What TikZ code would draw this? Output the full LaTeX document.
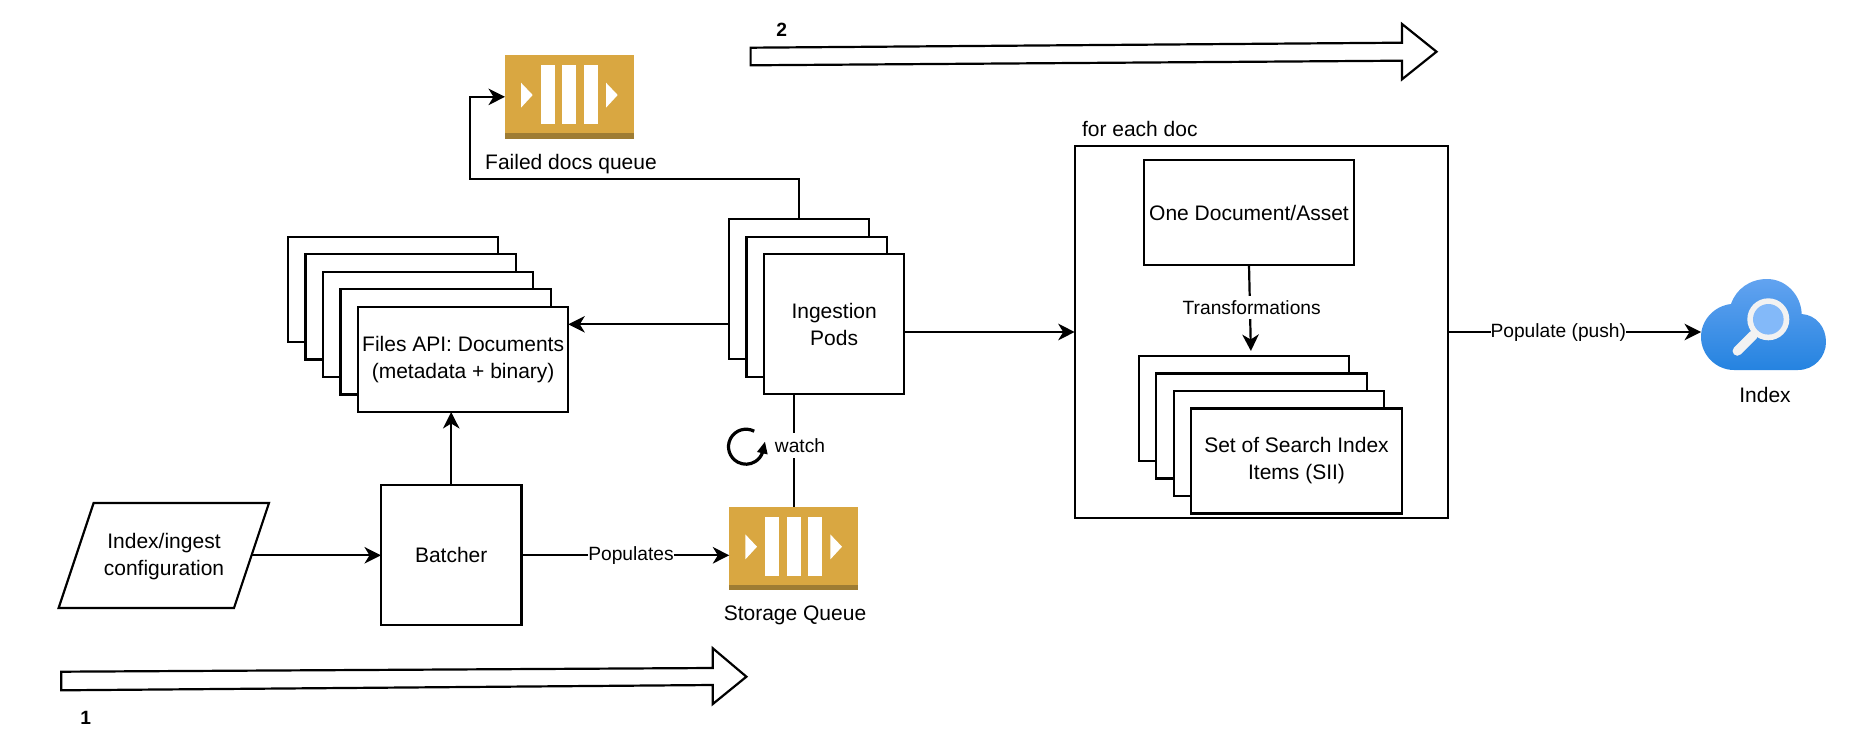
\documentclass[tikz,border=0pt]{standalone}
\usepackage{fontspec}
\setmainfont{Liberation Sans}
\usepackage{xcolor}
\usetikzlibrary{arrows.meta}
\usetikzlibrary{positioning}

\definecolor{queuegold}{HTML}{D9A741}
\definecolor{queueband}{HTML}{9E7C33}
\definecolor{cloudtop}{HTML}{62A3F0}
\definecolor{cloudbot}{HTML}{2583E0}
\definecolor{lensblue}{HTML}{83B9F9}
\definecolor{lensrim}{HTML}{F2F2F2}

\tikzset{
  every node/.style={font=\fontsize{21}{27}\selectfont, align=center, inner sep=0pt, outer sep=0pt},
  boxnode/.style={draw, fill=white, line width=2.2pt, anchor=north west},
  filesbox/.style={boxnode, minimum width=210.3pt, minimum height=105.3pt},
  podbox/.style={boxnode, minimum width=140.3pt, minimum height=140pt},
  siibox/.style={boxnode, minimum width=210.6pt, minimum height=105pt},
  queuebox/.style={fill=queuegold, anchor=north west, minimum width=128.6pt, minimum height=83.7pt},
  flowline/.style={line width=2.2pt, -{Stealth[length=16.5pt,width=16.5pt,inset=5pt]}},
  plainline/.style={line width=2.2pt},
  fatarrow/.style={draw, fill=white, line width=2.2pt, line join=miter},
  edgelabel/.style={fill=white, font=\fontsize{19.2}{23}\selectfont},
}

\begin{document}
\begin{tikzpicture}[x=1pt, y=-1pt]
    \useasboundingbox (0,0) rectangle (1862,746);

    % big arrows
    \draw [fatarrow] (750.6,47.7) -- (1402,42.7) -- (1402,24) -- (1436.5,51.7) -- (1402,79.3) -- (1402,60.7) -- (750.6,65.3) -- cycle;
    \draw [fatarrow] (61.2,671.7) -- (712.8,668) -- (712.8,648.3) -- (746.4,676.7) -- (712.8,704) -- (712.8,685) -- (61.2,690.3) -- cycle;
    \node [font=\fontsize{19.2}{23}\selectfont\bfseries] (steptwo) at (781.8,29.7) {2};
    \node [font=\fontsize{19.2}{23}\selectfont\bfseries] (stepone) at (85.7,718) {1};

    % queues
    \foreach \qname/\qx/\qy in {failedq/505/55, storageq/729.3/506.7} {
      \begin{scope}[shift={(\qx,\qy)}]
        \node [queuebox] (\qname) at (0,0) {};
        \fill [queueband] (0,78) rectangle (128.6,83.7);
        \fill [white] (36,10) rectangle (49.7,69.3);
        \fill [white] (57.3,10) rectangle (71.3,69.3);
        \fill [white] (79,10) rectangle (93,69.3);
        \fill [white] (16,27.7) -- (27.7,40) -- (16,52.7) -- cycle;
        \fill [white] (101,27.7) -- (112.7,40) -- (101,52.7) -- cycle;
      \end{scope}
    }
    \node (failedtext) at (571,164) {Failed docs queue};
    \node (storagetext) at (795,615) {Storage Queue};

    % stacks
    \foreach \i in {0,...,3} {
      \node [filesbox] (files\i) at ({288+\i*17.5},{236.7+\i*17.5}) {};
    }
    \node [filesbox] (filesfront) at (358,306.7) {Files API: Documents\\(metadata + binary)};

    \foreach \i in {0,1} {
      \node [podbox] (pods\i) at ({729+\i*17.5},{219.3+\i*17.5}) {};
    }
    \node [podbox] (podsfront) at (764,254.3) {Ingestion\\Pods};

    \node [boxnode, minimum width=373.3pt, minimum height=372.6pt] (foreach) at (1074.7,145.7) {};
    \node [anchor=west] (foreachtext) at (1082,129) {for each doc};
    \node [boxnode, minimum width=210.6pt, minimum height=105pt] (onedoc) at (1143.7,160) {One Document/Asset};
    \foreach \i in {0,1,2} {
      \node [siibox] (sii\i) at ({1138.7+\i*17.5},{356+\i*17.5}) {};
    }
    \node [siibox] (siifront) at (1191.2,408.5) {Set of Search Index\\Items (SII)};

    \node [boxnode, minimum width=140.4pt, minimum height=140pt] (batcher) at (381,485.3) {Batcher};
    \draw [fill=white, line width=2.2pt] (93.6,503) -- (269,503) -- (234,608) -- (58.6,608) -- cycle;
    \node (config) at (164,557) {Index/ingest\\configuration};
    \coordinate (configedge) at (251.7,555.3);

    % cloud
    \node [minimum width=125pt, minimum height=91pt] (index) at (1763.5,324.5) {};
    \shade [top color=cloudtop, bottom color=cloudbot] (1734,370) .. controls (1716,370) and (1701,355) .. (1701,337) .. controls (1701,320) and (1714,306) .. (1731,304) .. controls (1736,289) and (1750,279) .. (1767,279) .. controls (1786,279) and (1801,295) .. (1801.7,314) .. controls (1816,315) and (1826,327) .. (1826,342) .. controls (1826,357) and (1814,370) .. (1798,370) -- cycle;
    \draw [lensrim, line width=9.5pt, line cap=round] (1737.3,351) -- (1753.3,335);
    \fill [lensrim] (1768.3,319.3) circle [radius=21pt];
    \fill [lensblue] (1768.3,319.3) circle [radius=15.3pt];
    \node (indextext) at (1765,395) {Index};

    % connectors
    \coordinate (failedturn) at (470,179.3);
    \draw [flowline] (pods0.north) -- (pods0.north |- failedturn) -- (failedturn) |- (failedq.west);
    \draw [flowline] (pods0.west |- podsfront.center) -- (filesfront.east |- podsfront.center);
    \draw [flowline] (podsfront.east |- foreach.west) -- (foreach.west);
    \draw [flowline] (batcher.north) -- (batcher.north |- filesfront.south);
    \draw [flowline] (configedge) -- (batcher.west |- configedge);
    \draw [flowline] (batcher.east) -- (storageq.west |- batcher.east);
    \draw [plainline] (storageq.north |- podsfront.south) -- (storageq.north);
    \draw [flowline, shorten >=5pt] (onedoc.south) -- ([xshift=7pt]sii0.north);
    \draw [flowline] (foreach.east) -- (index.west |- foreach.east);

    % labels on the lines
    \node [edgelabel, minimum height=25pt] (watchtext) at (800,445.7) {watch};
    \node [edgelabel, minimum height=23pt] (transformtext) at (1251.7,307.3) {Transformations};
    \node [edgelabel] (populatestext) at (631,556) {Populates};
    \node [edgelabel] (pushtext) at (1558.3,332.7) {Populate (push)};

    % watch loop
    \coordinate (loopc) at (746,446.7);
    \coordinate (looptip) at (765,441.5);
    \draw [line width=3.2pt, -{Triangle[length=12pt,width=10pt]}] ([shift={(62:17.5pt)}]loopc) arc [start angle=62, end angle=340, radius=17.5pt] -- (looptip);

\end{tikzpicture}
\end{document}
